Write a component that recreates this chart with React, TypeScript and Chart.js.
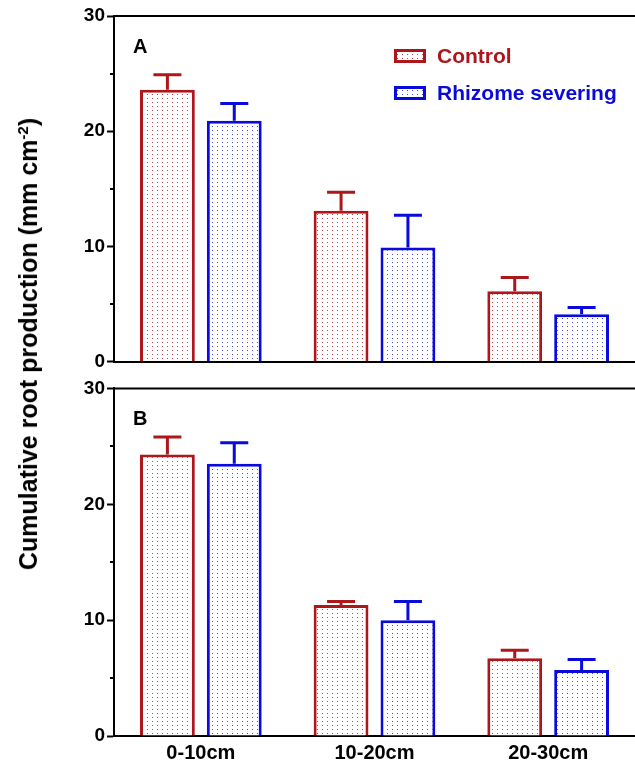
import React, { useEffect, useRef } from 'react';
import { Chart, registerables } from 'chart.js';
Chart.register(...registerables);

// ---- data ----
const categories = ['0-10cm', '10-20cm', '20-30cm'];
const seriesNames = ['Control', 'Rhizome severing'];
const panelAControl = [23.6, 13.1, 6.1];
const panelAControlErr = [1.3, 1.6, 1.2];
const panelASevering = [20.9, 9.9, 4.1];
const panelASeveringErr = [1.5, 2.8, 0.6];
const panelBControl = [24.3, 11.3, 6.7];
const panelBControlErr = [1.5, 0.3, 0.7];
const panelBSevering = [23.5, 10.0, 5.7];
const panelBSeveringErr = [1.8, 1.6, 0.9];
const yMajorTicks = [0, 10, 20, 30];
const yMinorTicks = [5, 15, 25];
const panelLetters = ['A', 'B'];
const yTitleMain = 'Cumulative root production (mm cm';
const yTitleSup = '-2';
const yTitleEnd = ')';

const RED = '#AD161B';
const BLUE = '#0A0ADC';
const FONT = "'Liberation Sans', Arial, sans-serif";

function makePattern(dot: string) {
  const c = document.createElement('canvas');
  c.width = 5;
  c.height = 4;
  const g = c.getContext('2d')!;
  g.fillStyle = '#ffffff';
  g.fillRect(0, 0, 5, 4);
  g.fillStyle = dot;
  g.fillRect(2, 2, 1, 1);
  const main = document.createElement('canvas').getContext('2d')!;
  return main.createPattern(c, 'repeat');
}

const errorBarPlugin = {
  id: 'errorBars',
  afterDatasetsDraw(chart: any) {
    const ctx = chart.ctx;
    const yScale = chart.scales.y;
    chart.data.datasets.forEach((ds: any, i: number) => {
      const meta = chart.getDatasetMeta(i);
      meta.data.forEach((el: any, j: number) => {
        const v = ds.data[j];
        const e = ds.errors[j];
        const yTop = yScale.getPixelForValue(v + e);
        ctx.save();
        ctx.strokeStyle = ds.borderColor;
        ctx.lineWidth = 3;
        ctx.beginPath();
        ctx.moveTo(el.x, el.y);
        ctx.lineTo(el.x, yTop);
        ctx.moveTo(el.x - 14, yTop);
        ctx.lineTo(el.x + 14, yTop);
        ctx.stroke();
        ctx.restore();
      });
    });
  },
};

const framePlugin = {
  id: 'frame',
  afterDraw(chart: any) {
    const ctx = chart.ctx;
    const { left, right, top } = chart.chartArea;
    const yScale = chart.scales.y;
    ctx.save();
    ctx.strokeStyle = '#000';
    ctx.lineWidth = 2;
    ctx.beginPath();
    ctx.moveTo(left, top);
    ctx.lineTo(right, top);
    yMinorTicks.forEach((v) => {
      const y = Math.round(yScale.getPixelForValue(v));
      ctx.moveTo(left - 4, y);
      ctx.lineTo(left, y);
    });
    ctx.stroke();
    // panel letter
    const letter = chart.options.plugins.panelInfo.letter;
    ctx.fillStyle = '#000';
    ctx.font = `bold 20px ${FONT}`;
    ctx.textAlign = 'left';
    ctx.textBaseline = 'middle';
    ctx.fillText(letter, left + 19, top + 31);
    // legend
    if (chart.options.plugins.panelInfo.legend) {
      chart.data.datasets.forEach((ds: any, i: number) => {
        const by = 49 + i * 37;
        ctx.fillStyle = ds.backgroundColor;
        ctx.fillRect(394, by, 32, 14);
        ctx.strokeStyle = ds.borderColor;
        ctx.lineWidth = 3;
        ctx.strokeRect(395.5, by + 1.5, 29, 11);
        ctx.fillStyle = ds.borderColor;
        ctx.font = `bold 21px ${FONT}`;
        ctx.textBaseline = 'middle';
        ctx.fillText(ds.label, 437, by + 8);
      });
    }
    ctx.restore();
  },
};

function makeConfig(control: number[], controlErr: number[], sev: number[], sevErr: number[], opts: any) {
  const redPat = makePattern('rgba(180,50,55,0.9)');
  const bluePat = makePattern('rgba(50,50,220,0.9)');
  return {
    type: 'bar',
    data: {
      labels: categories,
      datasets: [
        {
          label: seriesNames[0],
          data: control,
          errors: controlErr,
          backgroundColor: redPat,
          borderColor: RED,
          borderWidth: 3,
          borderSkipped: 'bottom',
          categoryPercentage: 0.77,
          barPercentage: 0.82,
        },
        {
          label: seriesNames[1],
          data: sev,
          errors: sevErr,
          backgroundColor: bluePat,
          borderColor: BLUE,
          borderWidth: 3,
          borderSkipped: 'bottom',
          categoryPercentage: 0.77,
          barPercentage: 0.82,
        },
      ],
    },
    options: {
      animation: false,
      responsive: false,
      maintainAspectRatio: false,
      layout: { padding: { top: opts.padTop, bottom: opts.padBottom, left: 0, right: 0 } },
      plugins: {
        legend: { display: false },
        tooltip: { enabled: false },
        panelInfo: { letter: opts.letter, legend: opts.legend },
      },
      scales: {
        x: {
          grid: { display: false, drawTicks: false },
          border: { display: true, color: '#000', width: 2 },
          ticks: {
            display: opts.showX,
            color: '#000',
            padding: 5,
            font: { family: FONT, size: 20, weight: 'bold' },
          },
          afterFit(s: any) {
            s.height = opts.xHeight;
          },
        },
        y: {
          min: 0,
          max: 30,
          afterBuildTicks(s: any) {
            s.ticks = yMajorTicks.map((v) => ({ value: v }));
          },
          ticks: {
            color: '#000',
            padding: 2,
            font: { family: FONT, size: 19, weight: 'bold' },
            callback: (v: any) => String(v),
          },
          grid: {
            display: true,
            drawOnChartArea: false,
            drawTicks: true,
            tickLength: 7,
            tickWidth: 2,
            tickColor: '#000',
            color: '#000',
          },
          border: { display: true, color: '#000', width: 2 },
          afterFit(s: any) {
            s.width = 114;
          },
        },
      },
    },
    plugins: [errorBarPlugin, framePlugin],
  } as any;
}

export default function App() {
  const refA = useRef<HTMLCanvasElement>(null);
  const refB = useRef<HTMLCanvasElement>(null);

  useEffect(() => {
    const a = new Chart(
      refA.current!,
      makeConfig(panelAControl, panelAControlErr, panelASevering, panelASeveringErr, {
        padTop: 16,
        padBottom: 11,
        xHeight: 0,
        showX: false,
        letter: panelLetters[0],
        legend: true,
      })
    );
    const b = new Chart(
      refB.current!,
      makeConfig(panelBControl, panelBControlErr, panelBSevering, panelBSeveringErr, {
        padTop: 11,
        padBottom: 0,
        xHeight: 30,
        showX: true,
        letter: panelLetters[1],
        legend: false,
      })
    );
    return () => {
      a.destroy();
      b.destroy();
    };
  }, []);

  return (
    <div
      style={{
        position: 'fixed',
        left: 0,
        top: 0,
        width: 635,
        height: 766,
        background: '#fff',
        overflow: 'hidden',
      }}
    >
      <canvas
        ref={refA}
        width={635}
        height={375}
        style={{ position: 'absolute', left: 0, top: 0, width: 635, height: 375 }}
      />
      <canvas
        ref={refB}
        width={635}
        height={391}
        style={{ position: 'absolute', left: 0, top: 375, width: 635, height: 391 }}
      />
      <div
        style={{
          position: 'absolute',
          left: 28,
          top: 344,
          transform: 'translate(-50%, -50%) rotate(-90deg)',
          whiteSpace: 'nowrap',
          fontFamily: FONT,
          fontWeight: 'bold',
          fontSize: 25,
          lineHeight: '30px',
          color: '#000',
        }}
      >
        {yTitleMain}
        <sup style={{ fontSize: 15, lineHeight: 0 }}>{yTitleSup}</sup>
        {yTitleEnd}
      </div>
    </div>
  );
}
